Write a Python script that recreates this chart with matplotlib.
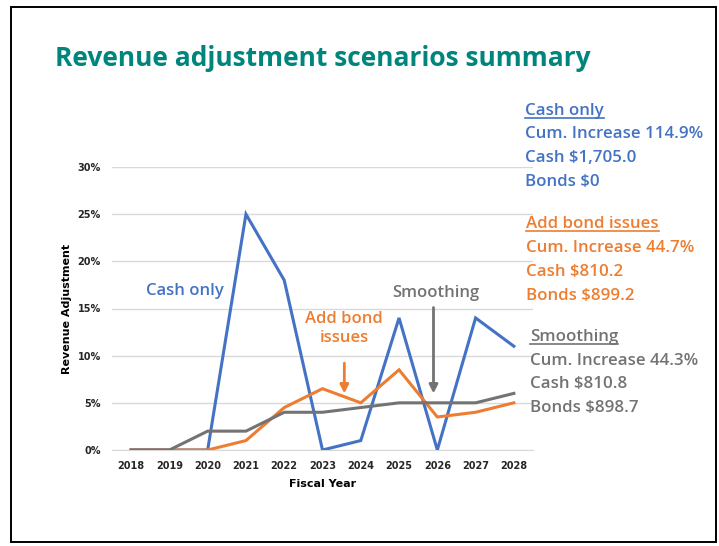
import matplotlib
matplotlib.use("Agg")
import matplotlib.pyplot as plt
from matplotlib.patches import Rectangle
from matplotlib.lines import Line2D

years = ["2018", "2019", "2020", "2021", "2022", "2023", "2024", "2025", "2026", "2027", "2028"]
cash_only = [0, 0, 0, 25, 18, 0, 1, 14, 0, 14, 11]
add_bond = [0, 0, 0, 1, 4.5, 6.5, 5, 8.5, 3.5, 4, 5]
smoothing = [0, 0, 2, 2, 4, 4, 4.5, 5, 5, 5, 6]
yticks = [0, 5, 10, 15, 20, 25, 30]

BLUE = "#4472C4"
ORANGE = "#ED7D31"
GRAY = "#737373"
TEAL = "#00857C"

W, H = 719, 546
fig = plt.figure(figsize=(W / 100, H / 100), dpi=100)
fig.patch.set_facecolor("white")

def fx(px):
    return px / W

def fy(py):
    return 1 - py / H

# slide border
fig.add_artist(Rectangle((fx(11), fy(542)), fx(716) - fx(11), fy(7) - fy(542),
                         transform=fig.transFigure, fill=False, edgecolor="black", lw=1.4))

ax = fig.add_axes([fx(112), fy(450), fx(533) - fx(112), fy(167) - fy(450)])
x = list(range(len(years)))
ax.plot(x, cash_only, color=BLUE, lw=2.2, zorder=3, solid_joinstyle="miter")
ax.plot(x, add_bond, color=ORANGE, lw=2.2, zorder=4, solid_joinstyle="miter")
ax.plot(x, smoothing, color=GRAY, lw=2.2, zorder=5, solid_joinstyle="miter")

ax.set_xlim(-0.5, len(years) - 0.5)
ax.set_ylim(0, 30)
ax.set_yticks(yticks)
ax.set_yticklabels([f"{v}%" for v in yticks])
ax.set_xticks(x)
ax.set_xticklabels(years)
ax.grid(axis="y", color="#D9D9D9", lw=1)
ax.set_axisbelow(True)
for s in ["top", "right", "left"]:
    ax.spines[s].set_visible(False)
ax.spines["bottom"].set_color("#D9D9D9")
ax.tick_params(length=0, labelsize=7, pad=8)
for lab in ax.get_xticklabels() + ax.get_yticklabels():
    lab.set_fontweight("bold")
    lab.set_color("#262626")
ax.set_xlabel("Fiscal Year", fontsize=8, fontweight="bold", labelpad=6)
ax.set_ylabel("Revenue Adjustment", fontsize=8, fontweight="bold", labelpad=4)

# in-chart annotations
ax.text(1.41, 16.9, "Cash only", color=BLUE, fontsize=12, ha="center", va="center",
        family="Open Sans", fontweight="semibold")
ax.text(5.57, 12.9, "Add bond\nissues", color=ORANGE, fontsize=12, ha="center", va="center",
        family="Open Sans", fontweight="semibold", linespacing=1.2)
ax.text(7.95, 16.6, "Smoothing", color=GRAY, fontsize=12, ha="center", va="center",
        family="Open Sans", fontweight="semibold")
ax.annotate("", xy=(5.57, 5.7), xytext=(5.57, 9.5),
            arrowprops=dict(arrowstyle="-|>,head_length=0.5,head_width=0.25", color=ORANGE, lw=2))
ax.annotate("", xy=(7.9, 5.7), xytext=(7.9, 15.4),
            arrowprops=dict(arrowstyle="-|>,head_length=0.5,head_width=0.25", color=GRAY, lw=2))

# title
fig.text(fx(55), fy(58), "Revenue adjustment scenarios summary", color=TEAL, fontsize=19,
         fontweight="bold", family="Open Sans", ha="left", va="center")

# right side summary
blocks = [
    (525, [111, 134, 158, 182], BLUE,
     ["Cash only", "Cum. Increase 114.9%", "Cash $1,705.0", "Bonds $0"]),
    (526, [224, 248, 272, 296], ORANGE,
     ["Add bond issues", "Cum. Increase 44.7%", "Cash $810.2", "Bonds $899.2"]),
    (530, [337, 361, 384, 408], GRAY,
     ["Smoothing", "Cum. Increase 44.3%", "Cash $810.8", "Bonds $898.7"]),
]
heads = []
for xpx, ys, col, lines in blocks:
    for i, (ypx, t) in enumerate(zip(ys, lines)):
        tx = fig.text(fx(xpx), fy(ypx), t, color=col, fontsize=12.2, family="Open Sans",
                      fontweight="semibold", ha="left", va="center")
        if i == 0:
            heads.append((tx, col))

fig.canvas.draw()
r = fig.canvas.get_renderer()
for tx, col in heads:
    bb = tx.get_window_extent(renderer=r)
    y0 = (bb.y0 + 1) / H
    fig.add_artist(Line2D([bb.x0 / W, bb.x1 / W], [y0, y0], transform=fig.transFigure,
                          color=col, lw=1.2))

fig.savefig("out.png", dpi=100)
